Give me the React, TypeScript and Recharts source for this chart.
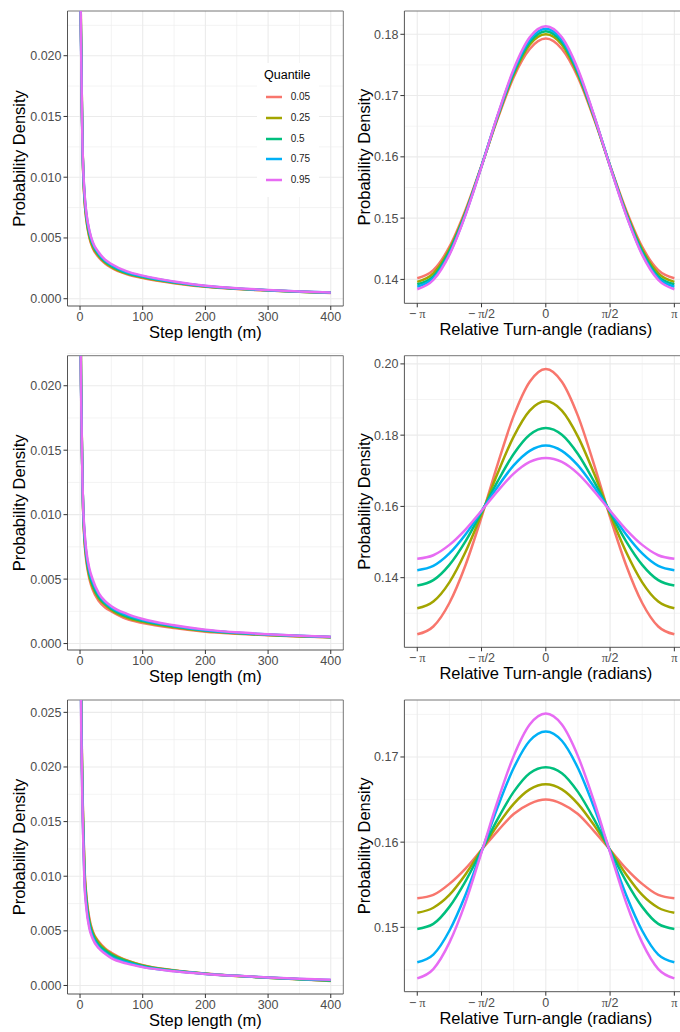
import React from 'react';
import { LineChart, Line, XAxis, YAxis, CartesianGrid, ReferenceLine, Label, Legend } from 'recharts';

const COLORS = ['#F8766D', '#A3A500', '#00BF7D', '#00B0F6', '#E76BF3'];
const QUANTILES = ['0.05', '0.25', '0.5', '0.75', '0.95'];

// Step length (m)
const STEP_X = [0.5, 1, 2, 3, 4, 5, 7, 10, 15, 20, 30, 40, 50, 75, 100, 150, 200, 250, 300, 350, 400];

const STEP1_Q05 = [0.036, 0.025, 0.0206, 0.016, 0.0126, 0.0104, 0.0082, 0.0065, 0.005, 0.0042, 0.0034, 0.0029, 0.00255, 0.002, 0.0017, 0.00128, 0.00098, 0.0008, 0.00067, 0.00057, 0.00048];
const STEP1_Q25 = [0.035, 0.0248, 0.0204, 0.0158, 0.0125, 0.0105, 0.0083, 0.0066, 0.0051, 0.0043, 0.0035, 0.00298, 0.00262, 0.00206, 0.00175, 0.00132, 0.001, 0.00081, 0.00068, 0.00058, 0.00049];
const STEP1_Q50 = [0.034, 0.0245, 0.02, 0.0157, 0.0124, 0.0106, 0.0085, 0.0068, 0.0053, 0.0045, 0.0036, 0.00306, 0.0027, 0.00212, 0.0018, 0.00135, 0.00102, 0.00083, 0.00069, 0.00058, 0.00049];
const STEP1_Q75 = [0.033, 0.0242, 0.0197, 0.0155, 0.0124, 0.0107, 0.0087, 0.007, 0.0055, 0.0046, 0.0037, 0.00314, 0.00278, 0.00218, 0.00185, 0.00138, 0.00104, 0.00084, 0.0007, 0.00059, 0.0005];
const STEP1_Q95 = [0.032, 0.024, 0.0195, 0.0154, 0.0124, 0.0108, 0.0088, 0.0071, 0.0056, 0.0047, 0.0038, 0.00322, 0.00286, 0.00225, 0.0019, 0.00142, 0.00107, 0.00086, 0.00072, 0.0006, 0.0005];

const STEP2_Q05 = [0.034, 0.0245, 0.0192, 0.0155, 0.0123, 0.0102, 0.008, 0.0064, 0.005, 0.0042, 0.0033, 0.0028, 0.0025, 0.0019, 0.0016, 0.0012, 0.00092, 0.00076, 0.00064, 0.00055, 0.00048];
const STEP2_Q25 = [0.033, 0.0242, 0.019, 0.0154, 0.0123, 0.0103, 0.0082, 0.0066, 0.0052, 0.0044, 0.0035, 0.003, 0.0026, 0.002, 0.00168, 0.00126, 0.00097, 0.00079, 0.00066, 0.00057, 0.00049];
const STEP2_Q50 = [0.032, 0.024, 0.0188, 0.0153, 0.0123, 0.0104, 0.0084, 0.0068, 0.0054, 0.0046, 0.0036, 0.0031, 0.0027, 0.0021, 0.00176, 0.00132, 0.00101, 0.00082, 0.00068, 0.00058, 0.0005];
const STEP2_Q75 = [0.031, 0.0236, 0.0186, 0.0152, 0.0123, 0.0105, 0.0086, 0.007, 0.0056, 0.0048, 0.0038, 0.0032, 0.0028, 0.0022, 0.00183, 0.00137, 0.00104, 0.00084, 0.0007, 0.0006, 0.00051];
const STEP2_Q95 = [0.03, 0.0232, 0.0184, 0.0151, 0.0123, 0.0106, 0.0088, 0.0072, 0.0058, 0.005, 0.0039, 0.0033, 0.0029, 0.0023, 0.0019, 0.00142, 0.00108, 0.00087, 0.00072, 0.00061, 0.00052];

const STEP3_Q05 = [0.04, 0.0335, 0.0255, 0.0212, 0.0177, 0.0152, 0.011, 0.0083, 0.0061, 0.005, 0.004, 0.0034, 0.003, 0.0023, 0.00186, 0.00139, 0.00109, 0.00087, 0.0007, 0.00056, 0.00042];
const STEP3_Q25 = [0.039, 0.033, 0.0252, 0.0209, 0.0174, 0.0149, 0.0107, 0.0081, 0.0059, 0.0049, 0.0039, 0.0033, 0.0029, 0.00226, 0.00183, 0.00137, 0.00108, 0.00087, 0.0007, 0.00057, 0.00044];
const STEP3_Q50 = [0.038, 0.032, 0.0245, 0.0205, 0.017, 0.0145, 0.0103, 0.0078, 0.0057, 0.0047, 0.0037, 0.0032, 0.0028, 0.0022, 0.00178, 0.00135, 0.00108, 0.00088, 0.00071, 0.00058, 0.00046];
const STEP3_Q75 = [0.036, 0.031, 0.0238, 0.0199, 0.0164, 0.0139, 0.0098, 0.0074, 0.0054, 0.0045, 0.0035, 0.003, 0.0026, 0.0021, 0.00172, 0.00132, 0.00106, 0.00088, 0.00072, 0.00059, 0.00049];
const STEP3_Q95 = [0.035, 0.03, 0.0232, 0.0194, 0.016, 0.0135, 0.0095, 0.0071, 0.0052, 0.0043, 0.0034, 0.0029, 0.0025, 0.002, 0.00168, 0.0013, 0.00106, 0.00088, 0.00073, 0.00061, 0.00052];

// Relative turn-angle, in multiples of pi
const ANGLE_FRAC = [-1, -0.875, -0.75, -0.625, -0.5, -0.375, -0.25, -0.125, 0, 0.125, 0.25, 0.375, 0.5, 0.625, 0.75, 0.875, 1];

const TURN1_Q05 = [0.1402, 0.1415, 0.1453, 0.1513, 0.1586, 0.1662, 0.173, 0.1776, 0.1793, 0.1776, 0.173, 0.1662, 0.1586, 0.1513, 0.1453, 0.1415, 0.1402];
const TURN1_Q25 = [0.1396, 0.141, 0.1449, 0.151, 0.1585, 0.1664, 0.1734, 0.1783, 0.18, 0.1783, 0.1734, 0.1664, 0.1585, 0.151, 0.1449, 0.141, 0.1396];
const TURN1_Q50 = [0.1392, 0.1405, 0.1446, 0.1508, 0.1585, 0.1666, 0.1737, 0.1787, 0.1805, 0.1787, 0.1737, 0.1666, 0.1585, 0.1508, 0.1446, 0.1405, 0.1392];
const TURN1_Q75 = [0.1388, 0.1402, 0.1442, 0.1506, 0.1585, 0.1667, 0.174, 0.1791, 0.1809, 0.1791, 0.174, 0.1667, 0.1585, 0.1506, 0.1442, 0.1402, 0.1388];
const TURN1_Q95 = [0.1384, 0.1399, 0.144, 0.1505, 0.1584, 0.1668, 0.1743, 0.1795, 0.1813, 0.1795, 0.1743, 0.1668, 0.1584, 0.1505, 0.144, 0.1399, 0.1384];

const TURN2_Q05 = [0.1241, 0.1263, 0.1329, 0.1435, 0.157, 0.1718, 0.1854, 0.195, 0.1986, 0.195, 0.1854, 0.1718, 0.157, 0.1435, 0.1329, 0.1263, 0.1241];
const TURN2_Q25 = [0.1314, 0.1333, 0.1387, 0.1472, 0.1578, 0.1693, 0.1796, 0.1869, 0.1895, 0.1869, 0.1796, 0.1693, 0.1578, 0.1472, 0.1387, 0.1333, 0.1314];
const TURN2_Q50 = [0.1378, 0.1393, 0.1436, 0.1502, 0.1584, 0.167, 0.1747, 0.1801, 0.182, 0.1801, 0.1747, 0.167, 0.1584, 0.1502, 0.1436, 0.1393, 0.1378];
const TURN2_Q75 = [0.1421, 0.1433, 0.1468, 0.1521, 0.1587, 0.1655, 0.1715, 0.1756, 0.1771, 0.1756, 0.1715, 0.1655, 0.1587, 0.1521, 0.1468, 0.1433, 0.1421];
const TURN2_Q95 = [0.1453, 0.1463, 0.1492, 0.1535, 0.1588, 0.1643, 0.1692, 0.1725, 0.1736, 0.1725, 0.1692, 0.1643, 0.1588, 0.1535, 0.1492, 0.1463, 0.1453];

const TURN3_Q05 = [0.1534, 0.1538, 0.1551, 0.1569, 0.1591, 0.1613, 0.1633, 0.1645, 0.165, 0.1645, 0.1633, 0.1613, 0.1591, 0.1569, 0.1551, 0.1538, 0.1534];
const TURN3_Q25 = [0.1517, 0.1523, 0.1538, 0.1562, 0.1591, 0.162, 0.1645, 0.1662, 0.1668, 0.1662, 0.1645, 0.162, 0.1591, 0.1562, 0.1538, 0.1523, 0.1517];
const TURN3_Q50 = [0.1498, 0.1504, 0.1524, 0.1554, 0.159, 0.1627, 0.1659, 0.1681, 0.1688, 0.1681, 0.1659, 0.1627, 0.159, 0.1554, 0.1524, 0.1504, 0.1498];
const TURN3_Q75 = [0.1459, 0.1468, 0.1496, 0.1538, 0.1589, 0.1641, 0.1687, 0.1719, 0.173, 0.1719, 0.1687, 0.1641, 0.1589, 0.1538, 0.1496, 0.1468, 0.1459];
const TURN3_Q95 = [0.144, 0.1451, 0.1482, 0.1529, 0.1588, 0.1648, 0.1701, 0.1738, 0.1751, 0.1738, 0.1701, 0.1648, 0.1588, 0.1529, 0.1482, 0.1451, 0.144];

// Axis ticks
const STEP_X_TICKS = [0, 100, 200, 300, 400];
const STEP_X_MINOR = [50, 150, 250, 350];
const STEP12_Y_TICKS = [0, 0.005, 0.01, 0.015, 0.02];
const STEP3_Y_TICKS = [0, 0.005, 0.01, 0.015, 0.02, 0.025];
const STEP_Y_MINOR = [0.0025, 0.0075, 0.0125, 0.0175, 0.0225];
const PI_TICK_FRAC = [-1, -0.5, 0, 0.5, 1];
const PI_MINOR_FRAC = [-0.75, -0.25, 0.25, 0.75];
const PI_TICK_LABELS = [['−', 'π', ''], ['−', 'π', '/2'], ['', '', '0'], ['', 'π', '/2'], ['', 'π', '']];
const TURN1_Y_TICKS = [0.14, 0.15, 0.16, 0.17, 0.18];
const TURN1_Y_MINOR = [0.145, 0.155, 0.165, 0.175];
const TURN2_Y_TICKS = [0.14, 0.16, 0.18, 0.2];
const TURN2_Y_MINOR = [0.13, 0.15, 0.17, 0.19];
const TURN3_Y_TICKS = [0.15, 0.16, 0.17];
const TURN3_Y_MINOR = [0.145, 0.155, 0.165, 0.175];

const FONT = '"Liberation Sans", Arial, Helvetica, sans-serif';
const SERIF = '"Liberation Serif", "DejaVu Serif", "Times New Roman", serif';
const TICK_FILL = '#4D4D4D';
const TICK_SIZE = 12.5;
const LINE_W = 2.5;

const stepRows = (s: number[][]) => STEP_X.map((x, i) => ({ x, s0: s[0][i], s1: s[1][i], s2: s[2][i], s3: s[3][i], s4: s[4][i] }));
const turnRows = (s: number[][]) => ANGLE_FRAC.map((f, i) => ({ x: f * Math.PI, s0: s[0][i], s1: s[1][i], s2: s[2][i], s3: s[3][i], s4: s[4][i] }));

const STEP1_DATA = stepRows([STEP1_Q05, STEP1_Q25, STEP1_Q50, STEP1_Q75, STEP1_Q95]);
const STEP2_DATA = stepRows([STEP2_Q05, STEP2_Q25, STEP2_Q50, STEP2_Q75, STEP2_Q95]);
const STEP3_DATA = stepRows([STEP3_Q05, STEP3_Q25, STEP3_Q50, STEP3_Q75, STEP3_Q95]);
const TURN1_DATA = turnRows([TURN1_Q05, TURN1_Q25, TURN1_Q50, TURN1_Q75, TURN1_Q95]);
const TURN2_DATA = turnRows([TURN2_Q05, TURN2_Q25, TURN2_Q50, TURN2_Q75, TURN2_Q95]);
const TURN3_DATA = turnRows([TURN3_Q05, TURN3_Q25, TURN3_Q50, TURN3_Q75, TURN3_Q95]);

const PI_TICKS = PI_TICK_FRAC.map((f) => f * Math.PI);
const PI_MINOR = PI_MINOR_FRAC.map((f) => f * Math.PI);
const PI_DOMAIN: [number, number] = [-1.1 * Math.PI, 1.1 * Math.PI];
const STEP_DOMAIN: [number, number] = [-20, 420];

function PiTick(props: any) {
  const { x, y, payload } = props;
  let idx = PI_TICKS.findIndex((t) => Math.abs(t - payload.value) < 1e-6);
  if (idx < 0) idx = 0;
  const [pre, sym, post] = PI_TICK_LABELS[idx];
  return (
    <text x={x} y={y} dy="0.71em" textAnchor="middle" fill={TICK_FILL} fontSize={TICK_SIZE} fontFamily={FONT}>
      {pre ? <tspan>{pre}</tspan> : null}
      {sym ? <tspan dx={pre ? 3 : 0} fontFamily={SERIF}>{sym}</tspan> : null}
      {post ? <tspan>{post}</tspan> : null}
    </text>
  );
}

function LegendBox() {
  return (
    <div style={{ position: 'relative', width: 62, height: 134, background: '#fff', fontFamily: FONT }}>
      <div style={{ position: 'absolute', left: 7, top: 4, fontSize: 12.5, lineHeight: '16px', color: '#000', whiteSpace: 'nowrap' }}>Quantile</div>
      {QUANTILES.map((q, i) => (
        <div key={q} style={{ position: 'absolute', left: 9, top: 27.3 + i * 20.7, height: 14, display: 'flex', alignItems: 'center' }}>
          <svg width={16} height={14} style={{ display: 'block' }}>
            <line x1={0} x2={16} y1={7} y2={7} stroke={COLORS[i]} strokeWidth={LINE_W} />
          </svg>
          <span style={{ marginLeft: 8.7, fontSize: 10, lineHeight: '14px', color: '#1A1A1A' }}>{q}</span>
        </div>
      ))}
    </div>
  );
}

type PanelProps = {
  left: number; top: number; width: number; height: number;
  data: any[];
  xDomain: [number, number]; xTicks: number[]; xMinor: number[];
  yDomain: [number, number]; yTicks: number[]; yMinor: number[]; yDigits: number;
  plotTop: number; plotRight: number; yAxisWidth: number; xAxisHeight: number;
  xTitle: string; piAxis?: boolean; legend?: boolean;
};

function Panel(p: PanelProps) {
  return (
    <div style={{ position: 'absolute', left: p.left, top: p.top, width: p.width, height: p.height }}>
      <LineChart width={p.width} height={p.height} data={p.data} margin={{ top: p.plotTop, right: p.plotRight, bottom: 0, left: 0 }}>
        <CartesianGrid horizontalValues={p.yMinor} verticalValues={p.xMinor} stroke="#EFEFEF" strokeWidth={0.7} />
        <CartesianGrid horizontalValues={p.yTicks} verticalValues={p.xTicks} stroke="#EBEBEB" strokeWidth={1.1} />
        <XAxis
          type="number"
          dataKey="x"
          domain={p.xDomain}
          ticks={p.xTicks}
          interval={0}
          allowDataOverflow
          height={p.xAxisHeight}
          tickSize={4}
          tickMargin={2}
          axisLine={{ stroke: '#555' }}
          tickLine={{ stroke: '#333' }}
          tick={p.piAxis ? <PiTick /> : { fill: TICK_FILL, fontSize: TICK_SIZE, fontFamily: FONT }}
        >
          <Label value={p.xTitle} position="insideBottom" offset={p.xAxisHeight - 32} style={{ fontSize: 16.5, fill: '#000', fontFamily: FONT }} />
        </XAxis>
        <YAxis
          type="number"
          domain={p.yDomain}
          ticks={p.yTicks}
          interval={0}
          allowDataOverflow
          width={p.yAxisWidth}
          tickSize={4}
          tickMargin={2}
          axisLine={{ stroke: '#555' }}
          tickLine={{ stroke: '#333' }}
          tick={{ fill: TICK_FILL, fontSize: TICK_SIZE, fontFamily: FONT }}
          tickFormatter={(v: number) => v.toFixed(p.yDigits)}
        >
          <Label value="Probability Density" angle={-90} position="insideLeft" offset={19} style={{ textAnchor: 'middle', fontSize: 16.5, fill: '#000', fontFamily: FONT }} />
        </YAxis>
        <ReferenceLine x={p.xDomain[1]} stroke="#777" strokeWidth={1} />
        <ReferenceLine y={p.yDomain[1]} stroke="#777" strokeWidth={1} />
        {QUANTILES.map((q, i) => (
          <Line key={q} name={q} type="monotone" dataKey={`s${i}`} stroke={COLORS[i]} strokeWidth={LINE_W} dot={false} isAnimationActive={false} />
        ))}
        {p.legend ? (
          <Legend
            layout="vertical"
            align="center"
            verticalAlign="middle"
            content={() => <LegendBox />}
            wrapperStyle={{ position: 'absolute', left: 257, top: 63, width: 62, height: 134 }}
          />
        ) : null}
      </LineChart>
    </div>
  );
}

export default function App() {
  const W = 345;
  const H = 345;
  return (
    <div style={{ position: 'absolute', left: 0, top: 0, width: 680, height: 1032, overflow: 'hidden', background: '#fff' }}>
      <Panel left={0} top={0} width={W} height={H} data={STEP1_DATA} xDomain={STEP_DOMAIN} xTicks={STEP_X_TICKS} xMinor={STEP_X_MINOR}
        yDomain={[-0.0006, 0.02368]} yTicks={STEP12_Y_TICKS} yMinor={STEP_Y_MINOR} yDigits={3}
        plotTop={11} plotRight={1.7} yAxisWidth={67.5} xAxisHeight={39} xTitle="Step length (m)" legend />
      <Panel left={345} top={0} width={W} height={H} data={TURN1_DATA} xDomain={PI_DOMAIN} xTicks={PI_TICKS} xMinor={PI_MINOR}
        yDomain={[0.1361, 0.1838]} yTicks={TURN1_Y_TICKS} yMinor={TURN1_Y_MINOR} yDigits={2}
        plotTop={11} plotRight={2.8} yAxisWidth={59.4} xAxisHeight={41.7} xTitle="Relative Turn-angle (radians)" piAxis />
      <Panel left={0} top={345} width={W} height={H} data={STEP2_DATA} xDomain={STEP_DOMAIN} xTicks={STEP_X_TICKS} xMinor={STEP_X_MINOR}
        yDomain={[-0.0005, 0.02233]} yTicks={STEP12_Y_TICKS} yMinor={STEP_Y_MINOR} yDigits={3}
        plotTop={10.7} plotRight={1.7} yAxisWidth={67.5} xAxisHeight={40} xTitle="Step length (m)" />
      <Panel left={345} top={345} width={W} height={H} data={TURN2_DATA} xDomain={PI_DOMAIN} xTicks={PI_TICKS} xMinor={PI_MINOR}
        yDomain={[0.12046, 0.2023]} yTicks={TURN2_Y_TICKS} yMinor={TURN2_Y_MINOR} yDigits={2}
        plotTop={10.7} plotRight={2.8} yAxisWidth={59.4} xAxisHeight={42.7} xTitle="Relative Turn-angle (radians)" piAxis />
      <Panel left={0} top={690} width={W} height={H} data={STEP3_DATA} xDomain={STEP_DOMAIN} xTicks={STEP_X_TICKS} xMinor={STEP_X_MINOR}
        yDomain={[-0.00078, 0.02613]} yTicks={STEP3_Y_TICKS} yMinor={STEP_Y_MINOR} yDigits={3}
        plotTop={10} plotRight={1.7} yAxisWidth={67.5} xAxisHeight={41} xTitle="Step length (m)" />
      <Panel left={345} top={690} width={W} height={H} data={TURN3_DATA} xDomain={PI_DOMAIN} xTicks={PI_TICKS} xMinor={PI_MINOR}
        yDomain={[0.14244, 0.17669]} yTicks={TURN3_Y_TICKS} yMinor={TURN3_Y_MINOR} yDigits={2}
        plotTop={10} plotRight={2.8} yAxisWidth={59.4} xAxisHeight={43.3} xTitle="Relative Turn-angle (radians)" piAxis />
    </div>
  );
}
